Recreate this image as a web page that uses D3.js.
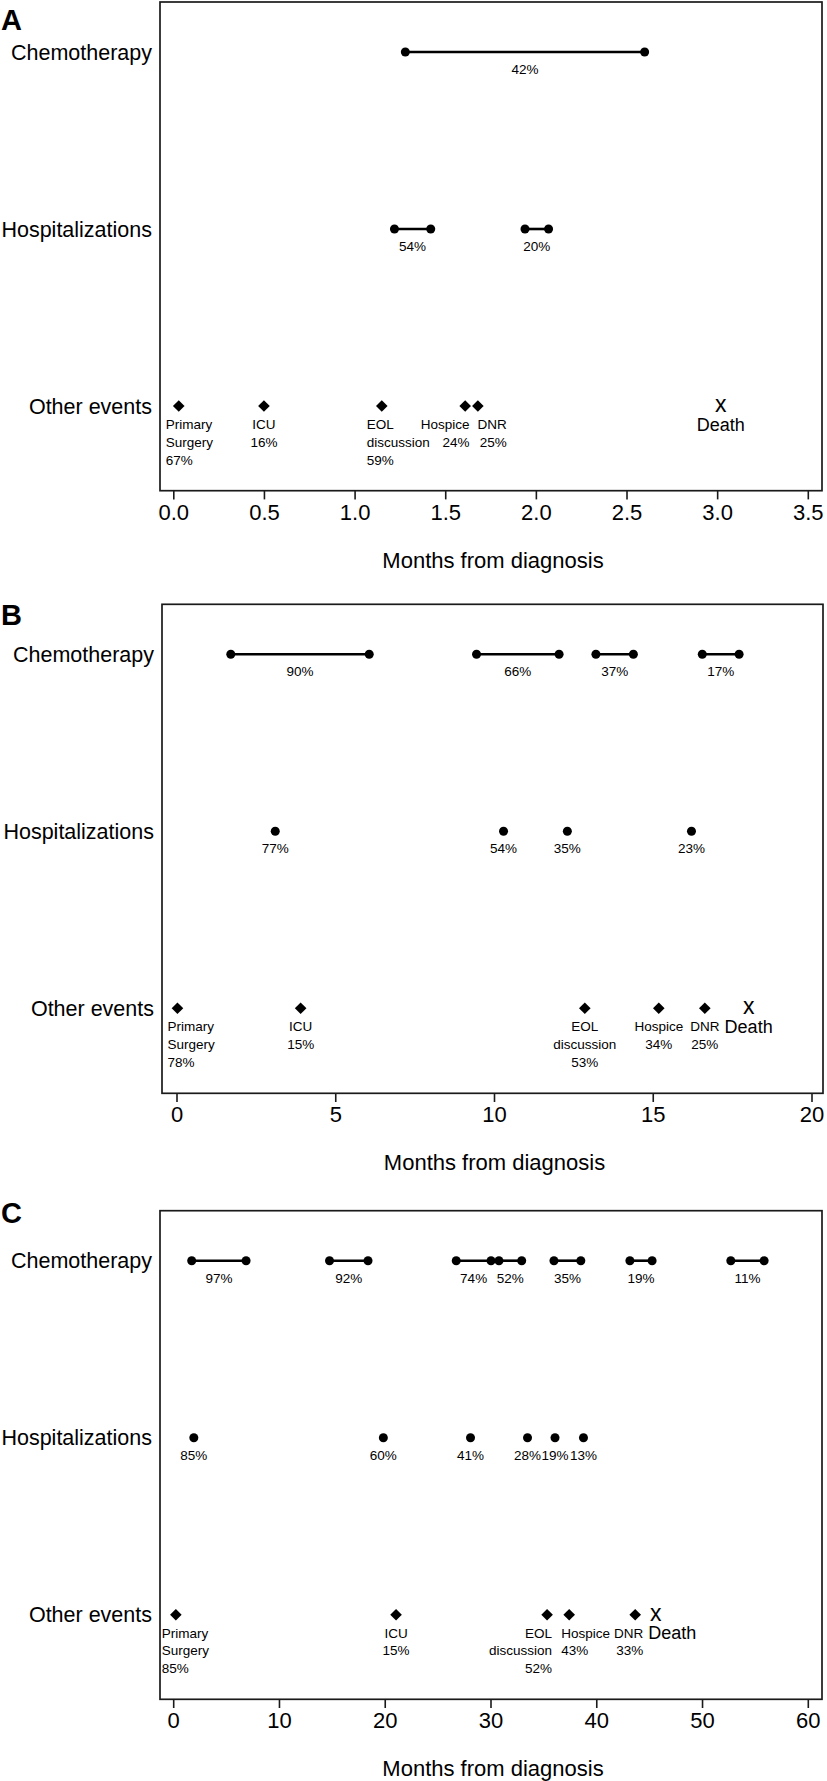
<!DOCTYPE html>
<html>
<head>
<meta charset="utf-8">
<script src="https://cdn.jsdelivr.net/npm/d3@7/dist/d3.min.js"></script>
<style>
  html, body { margin: 0; padding: 0; background: #fff; }
  svg { display: block; }
  text { font-family: "Liberation Sans", Arial, Helvetica, sans-serif; fill: #000; }
</style>
</head>
<body>
<svg id="chart" width="827" height="1781"></svg>
<script>
// ---------------- DATA ----------------
const categories = ["Chemotherapy", "Hospitalizations", "Other events"];
const panelLetters = ["A", "B", "C"];
const axisTitle = "Months from diagnosis";
const eventNames = [["Primary", "Surgery"], ["ICU"], ["EOL", "discussion"], ["Hospice"], ["DNR"]];
const deathLabel = "Death";

// Panel A
const ticksA = [0, 0.5, 1.0, 1.5, 2.0, 2.5, 3.0, 3.5];
const chemoStartA = [1.28];
const chemoEndA = [2.60];
const chemoPctA = ["42%"];
const hospStartA = [1.22, 1.94];
const hospEndA = [1.42, 2.07];
const hospPctA = ["54%", "20%"];
const eventTimeA = [0.03, 0.50, 1.15, 1.61, 1.68];
const eventPctA = ["67%", "16%", "59%", "24%", "25%"];
const deathA = 3.02;

// Panel B
const ticksB = [0, 5, 10, 15, 20];
const chemoStartB = [1.71, 9.45, 13.21, 16.56];
const chemoEndB = [6.07, 12.05, 14.39, 17.72];
const chemoPctB = ["90%", "66%", "37%", "17%"];
const hospStartB = [3.11, 10.30, 12.31, 16.22];
const hospEndB = [3.11, 10.30, 12.31, 16.22];
const hospPctB = ["77%", "54%", "35%", "23%"];
const eventTimeB = [0.03, 3.91, 12.86, 15.19, 16.64];
const eventPctB = ["78%", "15%", "53%", "34%", "25%"];
const deathB = 18.02;

// Panel C
const ticksC = [0, 10, 20, 30, 40, 50, 60];
const chemoStartC = [1.75, 14.78, 26.76, 30.80, 36.00, 43.18, 52.72];
const chemoEndC = [6.89, 18.42, 30.05, 32.95, 38.54, 45.28, 55.87];
const chemoPctC = ["97%", "92%", "74%", "52%", "35%", "19%", "11%"];
const hospStartC = [1.95, 19.87, 28.11, 33.50, 36.10, 38.79];
const hospEndC = [1.95, 19.87, 28.11, 33.50, 36.10, 38.79];
const hospPctC = ["85%", "60%", "41%", "28%", "19%", "13%"];
const eventTimeC = [0.25, 21.07, 35.35, 37.44, 43.68];
const eventPctC = ["85%", "15%", "52%", "43%", "33%"];
const deathC = 45.63;

// ---------------- LAYOUT (positions / styles) ----------------
const layouts = [
  { top: 2, bottom: 490.7, boxL: 160, boxR: 822, x0: 173.3, x1: 807.8, letterY: 30,
    tickFmt: d3.format(".1f"),
    evAnchor: ["start", "middle", "start", "end", "end"], evDx: [-13, 0, -15, 4.3, 29],
    deathAnchor: "middle", deathDx: 0 },
  { top: 604.3, bottom: 1093.3, boxL: 162, boxR: 823, x0: 176.5, x1: 811.5, letterY: 625,
    tickFmt: d3.format("d"),
    evAnchor: ["start", "middle", "middle", "middle", "middle"], evDx: [-10, 0, 0, 0, 0],
    deathAnchor: "middle", deathDx: 0 },
  { top: 1210.7, bottom: 1699.3, boxL: 160, boxR: 822, x0: 173.2, x1: 807.8, letterY: 1223,
    tickFmt: d3.format("d"),
    evAnchor: ["start", "middle", "end", "start", "end"], evDx: [-14, 0, 5, -8, 8],
    deathAnchor: "start", deathDx: -7.5 }
];

const panels = [
  { ticks: ticksA, cs: chemoStartA, ce: chemoEndA, cp: chemoPctA, hs: hospStartA, he: hospEndA, hp: hospPctA, et: eventTimeA, ep: eventPctA, death: deathA },
  { ticks: ticksB, cs: chemoStartB, ce: chemoEndB, cp: chemoPctB, hs: hospStartB, he: hospEndB, hp: hospPctB, et: eventTimeB, ep: eventPctB, death: deathB },
  { ticks: ticksC, cs: chemoStartC, ce: chemoEndC, cp: chemoPctC, hs: hospStartC, he: hospEndC, hp: hospPctC, et: eventTimeC, ep: eventPctC, death: deathC }
];

const svg = d3.select("#chart");
const R = 4.5, DIA = 5.8;
const pctSize = 13.5, catSize = 21.5, tickSize = 22;

panels.forEach((p, i) => {
  const L = layouts[i];
  const g = svg.append("g");
  const ticks = p.ticks;
  const x = d3.scaleLinear().domain([ticks[0], ticks[ticks.length - 1]]).range([L.x0, L.x1]);
  const y = d3.scalePoint().domain(categories).range([L.top + 50, L.top + 404]);

  // panel letter
  g.append("text").attr("x", 1).attr("y", L.letterY)
    .attr("font-size", 29).attr("font-weight", "bold").text(panelLetters[i]);

  // box
  g.append("rect").attr("x", L.boxL).attr("y", L.top)
    .attr("width", L.boxR - L.boxL).attr("height", L.bottom - L.top)
    .attr("fill", "none").attr("stroke", "#1a1a1a").attr("stroke-width", 1.7);

  // x axis
  const axis = d3.axisBottom(x).tickValues(ticks).tickFormat(L.tickFmt).tickSize(8.7).tickPadding(3);
  const ag = g.append("g").attr("transform", `translate(0,${L.bottom})`).call(axis);
  ag.select(".domain").remove();
  ag.selectAll(".tick line").attr("stroke", "#1a1a1a").attr("stroke-width", 1.6);
  ag.selectAll(".tick text").attr("font-size", tickSize).attr("dy", null).attr("y", 29)
    .attr("font-family", '"Liberation Sans", Arial, sans-serif').attr("fill", "#000");

  g.append("text").attr("x", (L.boxL + L.boxR) / 2 + 2).attr("y", L.bottom + 77)
    .attr("text-anchor", "middle").attr("font-size", 22).text(axisTitle);

  // category labels
  categories.forEach(c => {
    g.append("text").attr("x", L.boxL - 8).attr("y", y(c) + 7.5)
      .attr("text-anchor", "end").attr("font-size", catSize).text(c);
  });

  // chemo & hospitalization intervals
  const drawIntervals = (starts, ends, pcts, cat) => {
    const d = starts.map((s, k) => ({ s, e: ends[k], pct: pcts[k] }));
    const yy = y(cat);
    g.selectAll(null).data(d.filter(v => v.e > v.s)).enter().append("line")
      .attr("x1", v => x(v.s)).attr("x2", v => x(v.e)).attr("y1", yy).attr("y2", yy)
      .attr("stroke", "#000").attr("stroke-width", 2.6);
    d.forEach(v => {
      g.append("circle").attr("cx", x(v.s)).attr("cy", yy).attr("r", R).attr("fill", "#000");
      if (v.e > v.s) g.append("circle").attr("cx", x(v.e)).attr("cy", yy).attr("r", R).attr("fill", "#000");
    });
    g.selectAll(null).data(d).enter().append("text")
      .attr("x", v => x((v.s + v.e) / 2)).attr("y", yy + 22)
      .attr("text-anchor", "middle").attr("font-size", pctSize).text(v => v.pct);
  };
  drawIntervals(p.cs, p.ce, p.cp, categories[0]);
  drawIntervals(p.hs, p.he, p.hp, categories[1]);

  // other events
  const yo = y(categories[2]);
  p.et.forEach((t, k) => {
    const cx = x(t);
    g.append("path")
      .attr("d", `M${cx},${yo - DIA}L${cx + DIA},${yo}L${cx},${yo + DIA}L${cx - DIA},${yo}Z`)
      .attr("fill", "#000");
    const lines = eventNames[k].concat([p.ep[k]]);
    lines.forEach((ln, j) => {
      g.append("text").attr("x", cx + L.evDx[k]).attr("y", yo + 22.9 + j * 17.8)
        .attr("text-anchor", L.evAnchor[k]).attr("font-size", pctSize).text(ln);
    });
  });
  // death
  const dx = x(p.death);
  g.append("text").attr("x", dx).attr("y", yo + 6).attr("text-anchor", "middle")
    .attr("font-size", 23).text("x");
  g.append("text").attr("x", dx + L.deathDx).attr("y", yo + 24.5)
    .attr("text-anchor", L.deathAnchor).attr("font-size", 18).text(deathLabel);
});
</script>
</body>
</html>
